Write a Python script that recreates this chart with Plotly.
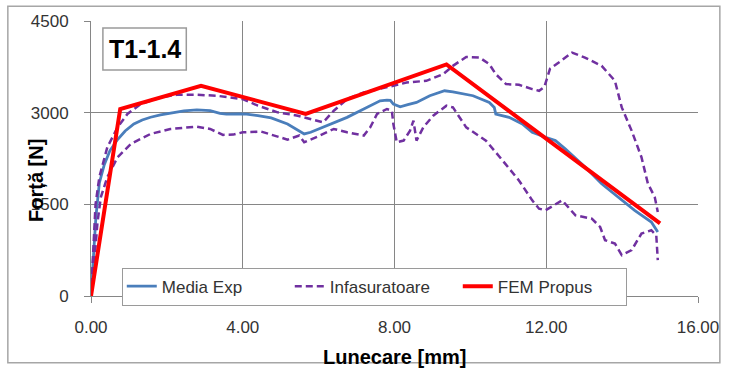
import plotly.graph_objects as go

# Mean experimental curve (Media Exp)
media_x = [0, 0.06, 0.13, 0.22, 0.35, 0.50, 0.70, 0.90, 1.13, 1.35, 1.57, 1.83, 2.09, 2.45,
           2.79, 3.14, 3.40, 3.57, 3.88, 4.10, 4.40, 4.75, 5.18, 5.49, 5.62, 5.79, 6.32, 6.75,
           7.19, 7.62, 7.80, 7.89, 7.97, 8.15, 8.35, 8.50, 8.58, 8.93, 9.32, 9.54, 10.07, 10.50,
           10.63, 10.67, 11.02, 11.37, 11.63, 11.98, 12.24, 12.50, 13.03, 13.46, 13.90, 14.33,
           14.77, 14.94]
media_y = [0, 600, 1300, 1850, 2150, 2380, 2560, 2700, 2815, 2880, 2925, 2965, 2995, 3030,
           3045, 3035, 2990, 2975, 2978, 2975, 2950, 2913, 2815, 2706, 2652, 2679, 2815, 2923,
           3060, 3195, 3206, 3200, 3141, 3097, 3130, 3152, 3168, 3277, 3358, 3342, 3277, 3168,
           3086, 2978, 2923, 2815, 2679, 2597, 2543, 2407, 2108, 1837, 1619, 1402,
           1211, 1049]

# Envelope of the experimental curves (Infasuratoare) - upper branch
env_up_x = [0, 0.05, 0.12, 0.22, 0.43, 0.70, 0.96, 1.31, 1.83, 2.26, 2.79, 3.31, 3.75, 4.00,
            4.40, 4.92, 5.45, 5.79, 6.12, 6.40, 6.75, 7.19, 7.62, 7.97, 8.32, 8.84, 9.28, 9.54,
            9.89, 10.24, 10.50, 10.67, 10.94, 11.28, 11.63, 11.81, 11.95, 12.10, 12.33, 12.68,
            13.02, 13.46, 13.81, 13.99, 14.25, 14.51, 14.68, 14.86, 14.94]
env_up_y = [0, 700, 1500, 1945, 2434, 2760, 2978, 3141, 3249, 3293, 3293, 3277, 3249, 3222,
            3114, 3005, 2950, 2896, 2842, 3032, 3222, 3331, 3386, 3440, 3494, 3521, 3630, 3766,
            3912, 3902, 3793, 3630, 3467, 3456, 3386, 3358, 3420, 3720, 3820, 3983,
            3902, 3766, 3521, 3086, 2706, 2271, 1837, 1619, 1374]

# Envelope - lower branch
env_lo_x = [0, 0.08, 0.17, 0.26, 0.43, 0.70, 1.05, 1.57, 2.09, 2.79, 3.14, 3.48, 3.75, 4.00,
            4.49, 4.84, 5.18, 5.49, 5.62, 5.97, 6.40, 6.75, 7.19, 7.36, 7.54, 7.80, 7.93, 7.97,
            8.06, 8.24, 8.41, 8.50, 8.58, 8.76, 9.02, 9.37, 9.54, 9.89, 10.41, 10.85, 11.28,
            11.63, 11.81, 11.98, 12.42, 12.77, 13.20, 13.42, 13.55, 13.81, 13.99, 14.25, 14.51,
            14.77, 14.90, 14.94]
env_lo_y = [0, 500, 1200, 1619, 1945, 2271, 2489, 2652, 2733, 2771, 2733, 2636, 2641, 2679,
            2690, 2625, 2559, 2625, 2516, 2608, 2733, 2679, 2625, 2760, 2978, 3060, 3032, 2815,
            2516, 2543, 2706, 2869, 2543, 2760, 2950, 3114, 3086, 2760, 2543, 2217, 1891,
            1565, 1429, 1402, 1565, 1320, 1266, 1130, 913, 859, 668, 750, 1022,
            1076, 994, 587]

# Proposed FEM model (FEM Propus)
fem_x = [0, 0.77, 2.90, 5.66, 9.37, 15.00]
fem_y = [0, 3060, 3440, 2980, 3790, 1190]

x_ticks = [0, 4, 8, 12, 16]
y_ticks = [0, 1500, 3000, 4500]

FONT = "Liberation Sans, Arial, sans-serif"
GRID = "#868686"

fig = go.Figure()
fig.add_trace(go.Scatter(x=media_x, y=media_y, mode="lines", name="Media Exp",
                         line=dict(color="#4a7ebb", width=2.8)))
fig.add_trace(go.Scatter(x=env_up_x, y=env_up_y, mode="lines", name="Infasuratoare",
                         legendgroup="env",
                         line=dict(color="#7030a0", width=2.5, dash="7px,4px")))
fig.add_trace(go.Scatter(x=env_lo_x, y=env_lo_y, mode="lines", name="Infasuratoare",
                         legendgroup="env", showlegend=False,
                         line=dict(color="#7030a0", width=2.5, dash="7px,4px")))
fig.add_trace(go.Scatter(x=fem_x, y=fem_y, mode="lines", name="FEM Propus",
                         line=dict(color="#ff0000", width=4)))

fig.update_layout(
    width=731, height=370,
    margin=dict(l=91, r=28, t=20, b=74),
    paper_bgcolor="white", plot_bgcolor="white",
    font=dict(family=FONT, size=17, color="#333333"),
    showlegend=True,
    legend=dict(orientation="h", x=0.0507, y=0.103, xanchor="left", yanchor="top",
                bgcolor="white", bordercolor="#9a9a9a", borderwidth=1,
                font=dict(family=FONT, size=17, color="#333333"),
                entrywidth=123, entrywidthmode="pixels",
                tracegroupgap=0),
    xaxis=dict(range=[0, 16], tickvals=x_ticks, tickformat=".2f",
               showgrid=True, gridcolor=GRID, gridwidth=1,
               showline=True, linecolor=GRID, linewidth=1,
               ticks="outside", ticklen=6, tickcolor=GRID,
               zeroline=False, ticklabelstandoff=10),
    yaxis=dict(range=[0, 4500], tickvals=y_ticks, tickformat="d",
               showgrid=True, gridcolor=GRID, gridwidth=1,
               showline=True, linecolor=GRID, linewidth=1,
               ticks="outside", ticklen=6, tickcolor=GRID,
               zeroline=False, ticklabelstandoff=12),
    shapes=[
        # outer chart frame
        dict(type="rect", xref="paper", yref="paper",
             x0=-0.137, x1=1.036, y0=-0.243, y1=1.054,
             line=dict(color="#a6a6a6", width=1.5), fillcolor="rgba(0,0,0,0)", layer="below"),
        # specimen label box
        dict(type="rect", xref="paper", yref="paper",
             x0=0.0196, x1=0.157, y0=0.822, y1=0.975,
             line=dict(color="#9a9a9a", width=1.5), fillcolor="white", layer="above"),
    ],
    annotations=[
        dict(text="<b>T1-1.4</b>", xref="paper", yref="paper", x=0.0882, y=0.8986,
             xanchor="center", yanchor="middle", showarrow=False,
             font=dict(family=FONT, size=25, color="black")),
        dict(text="<b>Lunecare [mm]</b>", xref="paper", yref="paper", x=0.5, y=-0.221,
             xanchor="center", yanchor="middle", showarrow=False,
             font=dict(family=FONT, size=20, color="black")),
        dict(text="<b>Forță [N]</b>", xref="paper", yref="paper", x=-0.0915, y=0.42,
             xanchor="center", yanchor="middle", showarrow=False, textangle=-90,
             font=dict(family=FONT, size=20, color="black")),
    ],
)

fig.write_html("out.html")
